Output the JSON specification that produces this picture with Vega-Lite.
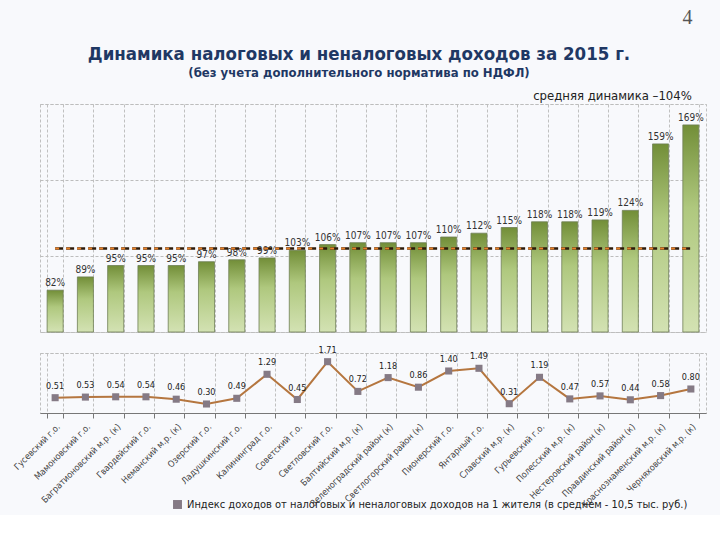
{
  "$schema": "https://vega.github.io/schema/vega-lite/v6.json",
  "background": "#F8F9FC",
  "padding": {"left": 11, "right": 14, "top": 8, "bottom": 5},
  "spacing": 12,
  "config": {
    "view": {"stroke": "#c0c0c0", "strokeDash": [3, 2]},
    "font": "DejaVu Sans Condensed",
    "axisY": {"labels": false, "ticks": false, "domain": false, "title": null, "grid": true, "gridDash": [3, 2], "gridColor": "#bdbdbd", "gridOpacity": 1}
  },
  "title": {
    "text": "4",
    "font": "Liberation Serif",
    "fontSize": 20,
    "fontWeight": "normal",
    "color": "#555555",
    "anchor": "end",
    "dx": -14,
    "offset": 16
  },
  "data": {
    "values": [
      {"name": "Гусевский г.о.", "pct": 0.82, "idx": 0.51},
      {"name": "Мамоновский г.о.", "pct": 0.89, "idx": 0.53},
      {"name": "Багратионовский м.р. (к)", "pct": 0.95, "idx": 0.54},
      {"name": "Гвардейский г.о.", "pct": 0.95, "idx": 0.54},
      {"name": "Неманский м.р. (к)", "pct": 0.95, "idx": 0.46},
      {"name": "Озерский г.о.", "pct": 0.97, "idx": 0.30},
      {"name": "Ладушкинский г.о.", "pct": 0.98, "idx": 0.49},
      {"name": "Калининград г.о.", "pct": 0.99, "idx": 1.29},
      {"name": "Советский г.о.", "pct": 1.03, "idx": 0.45},
      {"name": "Светловский г.о.", "pct": 1.06, "idx": 1.71},
      {"name": "Балтийский м.р. (к)", "pct": 1.07, "idx": 0.72},
      {"name": "Зеленоградский район (к)", "pct": 1.07, "idx": 1.18},
      {"name": "Светлогорский район (к)", "pct": 1.07, "idx": 0.86},
      {"name": "Пионерский г.о.", "pct": 1.10, "idx": 1.40},
      {"name": "Янтарный г.о.", "pct": 1.12, "idx": 1.49},
      {"name": "Славский м.р. (к)", "pct": 1.15, "idx": 0.31},
      {"name": "Гурьевский г.о.", "pct": 1.18, "idx": 1.19},
      {"name": "Полесский м.р. (к)", "pct": 1.18, "idx": 0.47},
      {"name": "Нестеровский район (к)", "pct": 1.19, "idx": 0.57},
      {"name": "Правдинский район (к)", "pct": 1.24, "idx": 0.44},
      {"name": "Краснознаменский м.р. (к)", "pct": 1.59, "idx": 0.58},
      {"name": "Черняховский м.р. (к)", "pct": 1.69, "idx": 0.80}
    ]
  },
  "vconcat": [
    {
      "width": 666,
      "height": 228,
      "title": {
        "text": "Динамика налоговых и неналоговых доходов за 2015 г.",
        "subtitle": "(без учета дополнительного норматива по НДФЛ)",
        "font": "DejaVu Sans Condensed",
        "fontSize": 18.5,
        "fontWeight": "bold",
        "color": "#1F3864",
        "subtitleFont": "DejaVu Sans Condensed",
        "subtitleFontSize": 13,
        "subtitleFontWeight": "bold",
        "subtitleColor": "#1F3864",
        "subtitlePadding": 4,
        "anchor": "middle",
        "dx": -14,
        "offset": 10
      },
      "encoding": {
        "x": {
          "field": "name",
          "type": "nominal",
          "sort": null,
          "scale": {"paddingInner": 0.47, "paddingOuter": 0.235},
          "axis": {
            "labels": false,
            "ticks": false,
            "domain": false,
            "title": null,
            "grid": true,
            "tickBand": "extent",
            "gridDash": [3, 2],
            "gridColor": "#c0c0c0"
          }
        }
      },
      "layer": [
        {
          "mark": {
            "type": "bar",
            "color": {
              "gradient": "linear",
              "x1": 0, "y1": 0, "x2": 0, "y2": 1,
              "stops": [
                {"offset": 0, "color": "#728E38"},
                {"offset": 0.4, "color": "#AFC87E"},
                {"offset": 1, "color": "#D3E2B3"}
              ]
            },
            "stroke": "#6E7F55",
            "strokeWidth": 0.8
          },
          "encoding": {
            "y": {
              "field": "pct",
              "type": "quantitative",
              "scale": {"domain": [0.6, 1.8]},
              "axis": {"values": [0.6, 0.8, 1.0, 1.2, 1.4, 1.6, 1.8]}
            },
            "y2": {"datum": 0.6}
          }
        },
        {
          "mark": {"type": "text", "baseline": "bottom", "dy": -2, "fontSize": 10, "color": "#333333"},
          "encoding": {
            "y": {"field": "pct", "type": "quantitative"},
            "text": {"field": "pct", "type": "quantitative", "format": ".0%"}
          }
        },
        {
          "data": {"values": [
            {"name": "Гусевский г.о.", "avg": 1.04},
            {"name": "Черняховский м.р. (к)", "avg": 1.04}
          ]},
          "mark": {"type": "line", "color": "#2b1a0a", "strokeWidth": 2.5, "strokeDash": [8, 3]},
          "encoding": {"y": {"field": "avg", "type": "quantitative"}}
        },
        {
          "data": {"values": [
            {"name": "Гусевский г.о.", "avg": 1.04},
            {"name": "Черняховский м.р. (к)", "avg": 1.04}
          ]},
          "mark": {"type": "line", "color": "#E8822A", "strokeWidth": 2, "strokeDash": [4, 7]},
          "encoding": {"y": {"field": "avg", "type": "quantitative"}}
        },
        {
          "data": {"values": [{"note": "средняя динамика –104%"}]},
          "mark": {"type": "text", "fontSize": 13, "color": "#222222", "align": "right", "baseline": "bottom", "dy": -1, "dx": 1},
          "encoding": {
            "x": {"datum": "Черняховский м.р. (к)"},
            "y": {"datum": 1.8},
            "text": {"field": "note"}
          }
        }
      ]
    },
    {
      "width": 666,
      "height": 60,
      "encoding": {
        "x": {
          "field": "name",
          "type": "nominal",
          "sort": null,
          "scale": {"paddingInner": 0.47, "paddingOuter": 0.235},
          "axis": {
            "title": null,
            "labelAngle": -45,
            "labelFontSize": 9,
            "labelColor": "#444444",
            "labelLimit": 0,
            "labelPadding": 4,
            "tickBand": "extent",
            "ticks": true,
            "tickSize": 5,
            "tickColor": "#777777",
            "domainColor": "#777777",
            "grid": true,
            "gridDash": [3, 2],
            "gridColor": "#c0c0c0"
          }
        }
      },
      "layer": [
        {
          "mark": {"type": "line", "color": "#B5763F", "strokeWidth": 2},
          "encoding": {
            "y": {
              "field": "idx",
              "type": "quantitative",
              "scale": {"domain": [0, 2]},
              "axis": {"values": [0, 0.5, 1, 1.5, 2]}
            }
          }
        },
        {
          "mark": {"type": "point", "shape": "square", "filled": true, "size": 50, "opacity": 1},
          "encoding": {
            "y": {"field": "idx", "type": "quantitative"},
            "color": {
              "datum": "Индекс доходов от налоговых и неналоговых доходов на 1 жителя (в среднем - 10,5 тыс. руб.)",
              "type": "nominal",
              "scale": {"range": ["#857A85"]},
              "legend": {
                "orient": "none",
                "legendX": 132,
                "legendY": 395,
                "title": null,
                "labelFont": "DejaVu Sans Condensed",
                "labelFontSize": 11,
                "labelLimit": 0,
                "labelColor": "#222222",
                "symbolType": "square",
                "symbolSize": 80
              }
            }
          }
        },
        {
          "mark": {"type": "text", "baseline": "bottom", "dy": -7, "fontSize": 9, "color": "#222222"},
          "encoding": {
            "y": {"field": "idx", "type": "quantitative"},
            "text": {"field": "idx", "type": "quantitative", "format": ".2f"}
          }
        }
      ]
    }
  ]
}
